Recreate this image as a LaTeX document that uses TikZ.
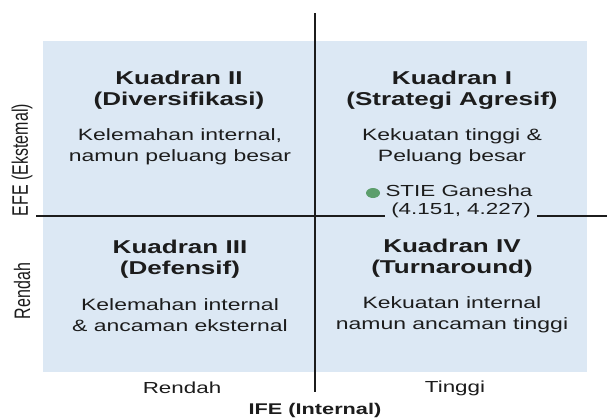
\documentclass[tikz,border=0pt]{standalone}
\usepackage{fontspec}
\usepackage{graphicx}
\usetikzlibrary{shapes.geometric}
\setmainfont{Liberation Sans}[FakeStretch=1.4]
\newfontfamily\plainsans{Liberation Sans}
\definecolor{quadbg}{HTML}{DCE8F4}
\definecolor{dotgreen}{HTML}{5C9E6C}
\definecolor{ink}{HTML}{1C1C1C}
\begin{document}
\begin{tikzpicture}[x=1pt,y=-1pt,
  head/.style={align=center, font=\bfseries\fontsize{18.6}{20.5}\selectfont, text=ink, inner sep=0pt},
  body/.style={align=center, font=\fontsize{16.4}{21}\selectfont, text=ink, inner sep=0pt},
  axislbl/.style={font=\fontsize{16}{18}\selectfont, text=ink, inner sep=0pt},
  axisline/.style={draw=ink, line width=1.3pt}]
\useasboundingbox (0,0) rectangle (609,418);
\fill[quadbg] (43,41) rectangle (587,372);
\coordinate (top) at (315,13);
\coordinate (bot) at (315,392);
\coordinate (left) at (36,216);
\coordinate (right) at (607,216);
\draw[axisline] (top) -- (bot);
\draw[axisline] (left) -- (right);
% Quadrant II
\node[head] (h2) at (179,90) {Kuadran II\\(Diversifikasi)};
\node[body] (b2) at (180,147) {Kelemahan internal,\\namun peluang besar};
% Quadrant I
\node[head] (h1) at (452,90) {Kuadran I\\(Strategi Agresif)};
\node[body] (b1) at (452,147) {Kekuatan tinggi \&\\Peluang besar};
\node[ellipse, fill=dotgreen, inner sep=0pt, minimum width=14pt, minimum height=10pt] (dot) at (373,193) {};
\node[axislbl] (stie) at (459,191) {STIE Ganesha};
\node[axislbl, fill=quadbg, inner xsep=6pt, inner ysep=1pt] (coord) at (461,210) {(4.151, 4.227)};
% Quadrant III
\node[head] (h3) at (180,259) {Kuadran III\\(Defensif)};
\node[body] (b3) at (180,315) {Kelemahan internal\\\& ancaman eksternal};
% Quadrant IV
\node[head] (h4) at (452,258) {Kuadran IV\\(Turnaround)};
\node[body] (b4) at (452,315) {Kekuatan internal\\namun ancaman tinggi};
% Axis labels
\node[axislbl] (xlow) at (182,388) {Rendah};
\node[axislbl] (xhigh) at (455,388) {Tinggi};
\node[axislbl, font=\bfseries\fontsize{15.5}{18}\selectfont] (xtitle) at (315,410) {IFE (Internal)};
\node[axislbl, rotate=90] (ytitle) at (22,160) {\scalebox{1}[1.4]{\plainsans EFE (Ekstemal)}};
\node[axislbl, rotate=90] (ylow) at (22,291) {\scalebox{1}[1.4]{\plainsans Rendah}};
\end{tikzpicture}
\end{document}
